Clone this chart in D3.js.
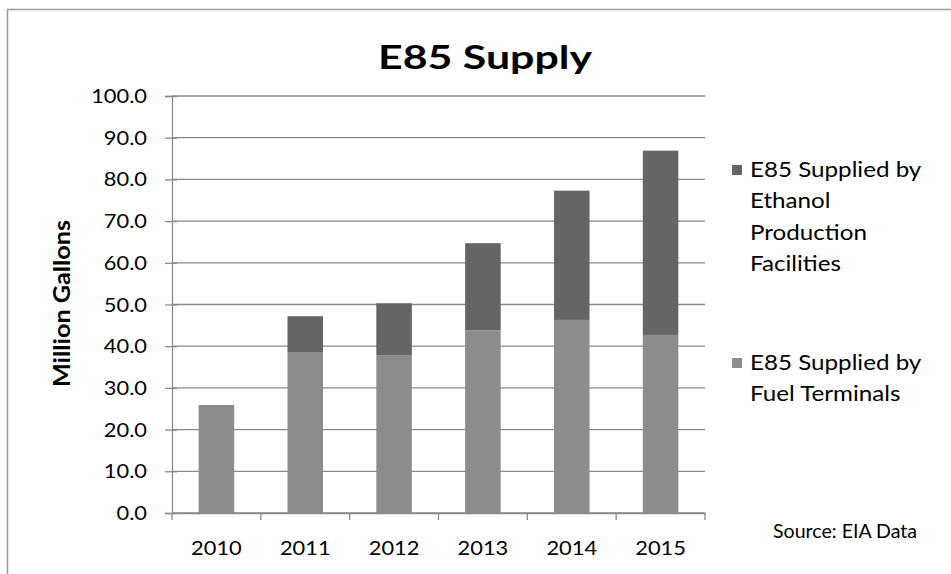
<!DOCTYPE html>
<html><head><meta charset="utf-8">
<script src="https://cdn.jsdelivr.net/npm/d3@7"></script>
<style>
body{margin:0;background:#fff;}
text{font-family:Lato,"Open Sans",sans-serif;fill:#000;}
</style></head>
<body><svg id="c" width="951" height="574"></svg>
<script>
const years = ["2010","2011","2012","2013","2014","2015"];
const terminals = [25.9, 38.6, 37.9, 43.8, 46.3, 42.7];
const facilities = [0.0, 8.6, 12.4, 20.9, 31.0, 44.2];
const yTicks = [0,10,20,30,40,50,60,70,80,90,100];
const legendLines = [["E85 Supplied by","Ethanol","Production","Facilities"],["E85 Supplied by","Fuel Terminals"]];
const colors = {terminals:"#8c8c8c", facilities:"#656565"};

const svg = d3.select("#c");
svg.append("path").attr("d","M7.5,574 L7.5,9.5 L951,9.5").attr("fill","none").attr("stroke","#999").attr("stroke-width",1.5);

const L=172, R=705, T=96, B=513;
const x = d3.scaleBand().domain(years).range([L,R]).paddingInner(0.6).paddingOuter(0.3);
const y = d3.scaleLinear().domain([0,100]).range([B,T]);
const gridColor = "#8a8a8a";

svg.append("g").selectAll("line").data(yTicks).join("line")
  .attr("x1",L).attr("x2",R).attr("y1",d=>y(d)).attr("y2",d=>y(d))
  .attr("stroke",gridColor).attr("stroke-width",1.3);

const data = years.map((yr,i)=>({yr, t:terminals[i], f:facilities[i]}));
const stack = d3.stack().keys(["t","f"])(data);
const fillFor = ["terminals","facilities"];
svg.append("g").selectAll("g").data(stack).join("g")
  .attr("fill",(d,i)=>colors[fillFor[i]])
  .selectAll("rect").data(d=>d.filter(p=>p[1]-p[0]>0)).join("rect")
  .attr("x",d=>x(d.data.yr)).attr("width",x.bandwidth())
  .attr("y",d=>y(d[1])).attr("height",d=>y(d[0])-y(d[1]));

// y axis
const ya = svg.append("g").attr("transform",`translate(${L},0)`)
  .call(d3.axisLeft(y).tickValues(yTicks).tickFormat("").tickSize(7));
ya.select(".domain").attr("stroke",gridColor).attr("stroke-width",1.3);
ya.selectAll(".tick line").attr("stroke",gridColor).attr("stroke-width",1.3).attr("x2",-7).attr("x1",5);
const fmt = d3.format(".1f");
svg.append("g").selectAll("text").data(yTicks).join("text")
  .attr("transform",d=>`translate(147,${y(d)}) scale(1.12,1)`)
  .attr("dy","0.36em").attr("text-anchor","end").attr("font-size",19.5).text(d=>fmt(d));

// x axis
const xa = svg.append("g").attr("transform",`translate(0,${B})`)
  .call(d3.axisBottom(x).tickSize(0).tickFormat(""));
xa.select(".domain").attr("stroke",gridColor).attr("stroke-width",1.3);
const bounds = years.map(yr=>x(yr)-x.step()*x.paddingInner()/2).concat([R]);
xa.append("g").selectAll("line").data(bounds).join("line")
  .attr("x1",d=>d).attr("x2",d=>d).attr("y1",0).attr("y2",7)
  .attr("stroke",gridColor).attr("stroke-width",1.3);
svg.append("g").selectAll("text").data(years).join("text")
  .attr("transform",d=>`translate(${x(d)+x.bandwidth()/2},555) scale(1.12,1)`)
  .attr("text-anchor","middle").attr("font-size",19.5).text(d=>d);

// title
svg.append("text").attr("x",485).attr("y",68.5).attr("text-anchor","middle")
  .attr("font-size",33).attr("font-weight","bold")
  .attr("textLength",214).attr("lengthAdjust","spacingAndGlyphs").text("E85 Supply");

// y title
svg.append("text").attr("transform","translate(70,303.5) rotate(-90)").attr("text-anchor","middle")
  .attr("font-size",22).attr("font-weight","bold")
  .attr("textLength",167).attr("lengthAdjust","spacingAndGlyphs").text("Million Gallons");

// legend
const legTop = [177, 370];
const legColors = [colors.facilities, colors.terminals];
legendLines.forEach((lines,k)=>{
  svg.append("rect").attr("x",732).attr("y",legTop[k]-12).attr("width",10).attr("height",10).attr("fill",legColors[k]);
  const g = svg.append("g").attr("transform",`translate(750,0) scale(1.18,1)`);
  lines.forEach((ln,j)=>{
    g.append("text").attr("x",0).attr("y",legTop[k]+j*31.5).attr("font-size",20.5).text(ln);
  });
});

// source
svg.append("text").attr("x",773).attr("y",538).attr("font-size",19)
  .attr("textLength",144).attr("lengthAdjust","spacingAndGlyphs").text("Source: EIA Data");
</script></body></html>
